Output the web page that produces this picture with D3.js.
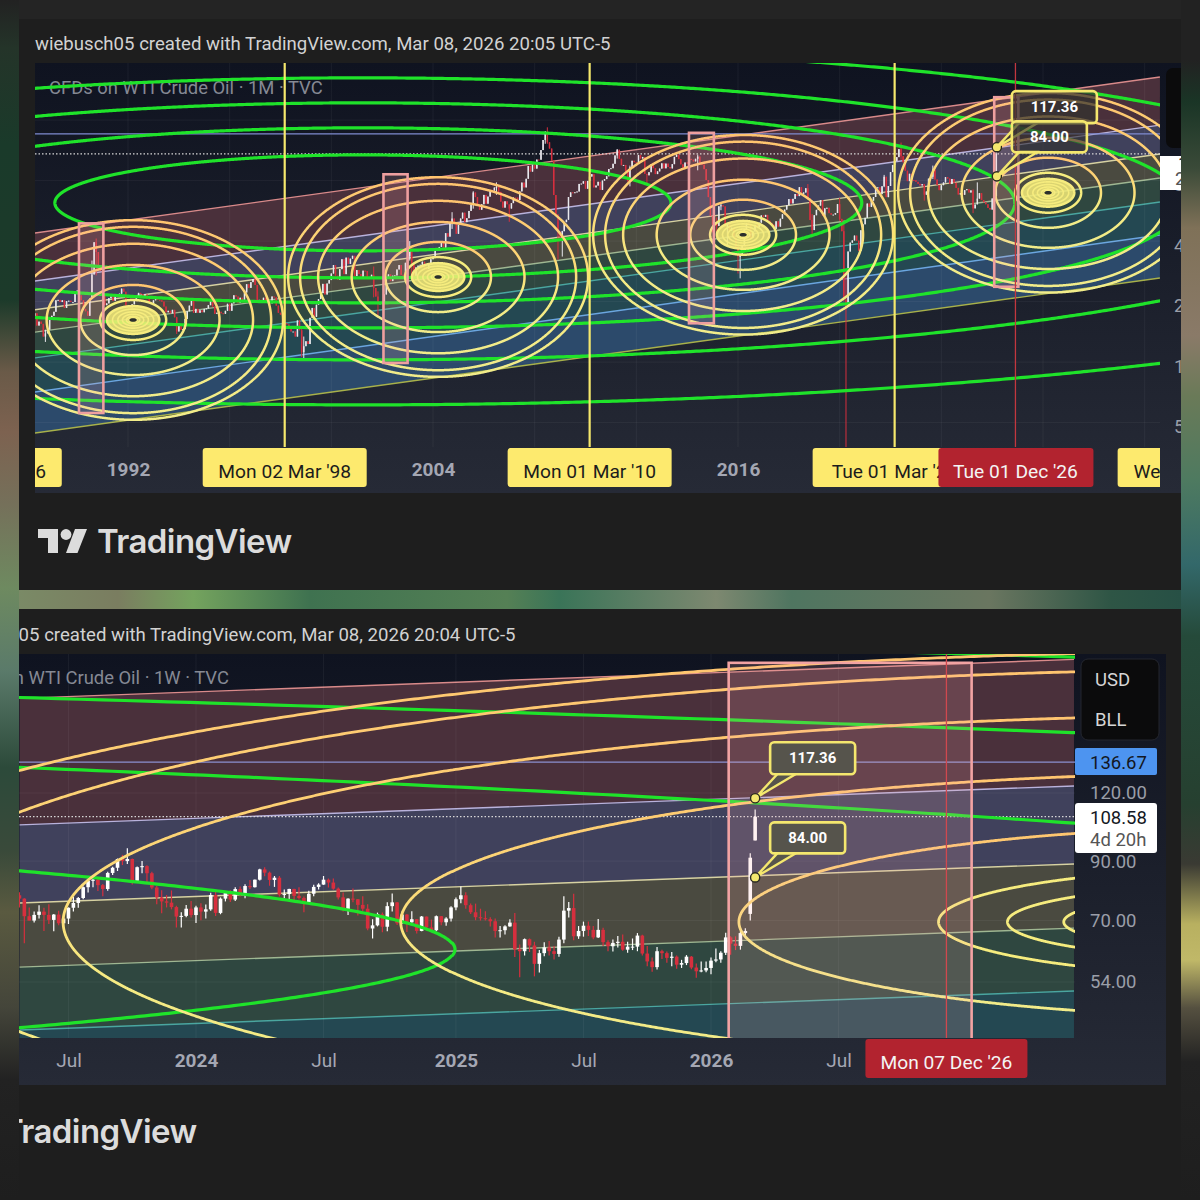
<!DOCTYPE html>
<html>
<head>
<meta charset="utf-8">
<script src="https://cdn.jsdelivr.net/npm/d3@7"></script>
<style>
  html, body { margin: 0; padding: 0; background: #1e1e1e; }
  text { font-family: Roboto, sans-serif; }
</style>
</head>
<body>
<div id="chart"></div>
<script>
// monthly closes, May 1988 -> Mar 2026, one line per year
const monthlyClose = [
  17.5,15.2,15.9,15.5,13.4,13.9,14.5,16.3,
  17.0,17.8,20.3,20.4,19.9,20.3,18.6,20.1,20.2,19.9,19.9,21.8,
  22.7,21.5,20.3,18.4,17.9,17.0,20.7,27.3,39.5,35.3,28.9,28.4,
  21.5,19.2,19.6,20.8,21.2,20.2,21.4,21.7,21.9,23.2,22.4,19.1,
  18.9,18.7,19.4,20.3,20.9,22.1,21.8,21.4,21.7,20.6,19.9,19.5,
  20.3,20.7,20.4,20.3,20.0,18.9,17.7,18.0,17.5,18.2,16.7,14.2,
  15.2,14.5,14.6,16.4,17.9,19.1,20.3,17.6,18.4,17.6,18.1,17.7,
  18.4,18.5,19.2,20.4,18.9,17.4,17.6,17.8,17.5,17.4,18.0,19.5,
  18.0,19.6,21.5,21.2,19.7,20.9,20.3,22.2,24.4,23.4,25.0,25.9,
  24.2,20.3,20.4,19.9,20.9,19.8,20.1,19.6,21.2,21.0,19.1,17.6,
  17.2,15.7,15.6,15.4,15.0,14.2,14.2,13.4,16.1,14.4,11.2,12.0,
  12.7,12.3,16.6,18.6,16.8,19.3,20.6,22.1,24.5,21.7,24.6,25.6,
  27.6,30.4,26.9,25.7,29.0,32.5,27.4,33.1,30.8,32.7,33.8,26.8,
  28.7,27.4,26.3,28.5,28.4,26.2,26.4,27.2,23.4,21.2,19.4,19.8,
  19.5,21.7,26.3,27.3,25.3,26.9,27.0,28.9,30.4,27.2,26.9,31.2,
  33.5,36.6,31.0,25.8,29.6,30.2,30.5,31.6,29.2,29.1,30.4,32.5,
  33.1,36.2,35.8,37.4,39.9,37.1,43.8,42.1,49.6,51.8,49.4,43.5,
  48.2,51.8,55.4,49.7,52.0,56.5,60.6,69.8,66.2,59.8,57.3,61.0,
  67.9,61.4,66.6,71.9,71.3,73.9,74.4,70.3,62.9,58.7,63.1,61.0,
  58.1,61.8,65.9,65.8,64.0,70.7,78.2,74.0,81.7,94.5,88.7,96.0,
  91.8,101.8,101.6,113.5,127.4,140.0,124.1,115.5,100.6,67.8,54.4,44.6,
  41.7,44.8,49.7,51.1,66.3,69.9,69.5,70.0,70.6,77.0,77.3,79.4,
  72.9,79.7,83.8,86.1,74.0,75.6,78.9,71.9,80.0,81.4,84.1,91.4,
  92.2,97.0,106.7,113.9,102.7,95.4,95.7,88.8,79.2,93.2,100.4,98.8,
  98.5,107.1,103.0,104.9,86.5,85.0,88.1,96.5,92.2,86.2,88.9,91.8,
  97.5,92.1,97.2,93.5,92.0,96.6,105.0,107.7,102.3,96.4,92.7,98.4,
  97.5,102.6,101.6,99.7,102.7,105.4,98.2,96.0,91.2,80.5,66.2,53.3,
  48.2,49.8,47.6,59.6,60.3,59.5,47.1,49.2,45.1,46.6,41.7,37.0,
  33.6,33.8,38.3,45.9,49.1,48.3,41.6,44.7,48.2,46.9,49.4,53.7,
  52.8,54.0,50.6,49.3,48.3,46.0,50.2,47.2,51.7,54.4,57.4,60.4,
  64.7,61.6,64.9,68.6,67.0,74.2,68.8,69.8,73.3,65.3,50.9,45.4,
  53.8,57.2,60.1,63.9,53.5,58.2,58.6,55.1,54.1,54.2,55.2,61.1,
  51.6,44.8,20.5,18.8,35.5,39.3,40.3,42.6,40.2,35.8,45.3,48.5,
  52.2,61.5,59.2,63.6,66.3,73.5,74.0,68.5,75.0,83.6,66.2,75.2,
  88.2,95.7,100.3,104.7,114.7,105.8,98.6,89.6,79.5,86.5,80.6,80.3,
  78.9,77.1,75.7,76.8,68.1,70.6,81.8,83.6,90.8,81.0,76.0,71.7,
  75.9,78.3,83.2,81.9,77.0,81.5,78.0,73.6,68.2,69.3,68.0,71.7,
  72.5,69.8,71.5,58.2,60.8,65.1,69.3,64.0,62.4,61.0,58.5,57.4,
  65.2,67.0,108.58
];

// the months with a wick long enough to read on the picture
const wickMonths = ["1988-10","1990-08","1990-10","1991-01","1993-12","1998-11","1998-12","2001-09","2001-11","2003-02","2003-03","2004-10","2005-08","2006-07","2007-01","2008-06","2008-07","2008-12","2009-02","2011-04","2011-10","2012-06","2014-06","2015-01","2015-03","2015-05","2015-08","2016-01","2016-02","2018-10","2018-12","2020-01","2020-03","2020-04","2021-10","2022-03","2022-06","2023-05","2023-09","2025-04","2025-06","2026-03"];
const wickHighs = [14.5,32,41.2,32,16.8,14.7,13.4,29.9,22.5,40,38,55.7,70.8,78.4,58.5,141,147.3,50,45,114.8,95,85,107.7,53.5,52.5,62.6,49.4,38.4,34.8,76.9,54.5,65.6,48.7,29,85.4,130.5,123.7,77,95,72.3,78.4,111.9];
const wickLows = [12.6,20.7,27,20,13.8,10.6,10.4,21,16.7,32,26.5,46,58,68,49.9,122,122,32.4,33.5,103,74.9,77.3,90,44.2,42,57,37.8,27.6,26.1,64,42.4,50.5,20,0.5,74.2,93.5,101.5,63.6,81.5,55.1,63.6,65];

// weekly bars, 24 Apr 2023 -> 09 Mar 2026
const weeklyClose = [
  76.8,71.3,70.0,71.7,72.7,71.7,70.2,71.8,69.2,70.6,73.9,75.4,77.0,80.6,82.8,83.2,81.3,80.0,85.6,87.5,90.8,90.0,90.8,82.8,87.7,88.1,85.5,80.5,77.2,75.9,75.5,74.1,71.2,71.4,73.6,71.65,
  74.0,72.7,73.4,78.0,72.3,76.8,79.2,76.5,79.97,78.0,81.0,80.6,83.2,86.9,85.7,83.1,83.9,78.1,78.3,80.0,77.7,77.0,75.5,78.4,80.7,81.5,83.2,82.2,80.1,77.2,73.5,76.8,76.6,74.8,73.6,67.7,68.6,71.9,68.2,74.4,75.6,69.2,71.8,69.5,70.4,67.0,71.2,68.0,67.2,71.3,69.5,70.6,74.0,
  76.6,77.9,74.7,72.5,71.0,70.7,70.4,69.8,67.0,67.2,68.3,69.4,62.0,61.5,64.7,63.0,58.3,61.0,62.5,61.5,60.8,64.6,73.0,73.8,65.5,67.0,68.5,67.3,65.2,67.3,63.9,62.8,63.7,64.0,61.9,62.7,62.7,65.7,60.9,58.9,57.5,61.5,61.0,59.8,60.1,58.1,58.5,60.1,57.4,56.5,56.7,57.3,
  59.1,59.4,61.1,65.2,63.5,62.9,66.4,67.0,91.3,108.58
];
const weeklyHigh = [
  78.9,76.9,74.0,72.7,74.7,73.9,75.0,72.0,73.0,71.0,74.0,77.3,77.3,80.8,83.5,84.9,84.2,81.7,86.0,87.9,91.0,92.4,95.0,91.0,88.0,90.0,88.4,86.0,81.0,79.6,78.0,79.5,74.5,72.5,74.8,76.0,
  74.5,75.3,74.9,78.7,79.3,77.2,79.2,79.6,80.6,80.8,81.6,83.1,83.3,87.1,87.7,86.1,84.5,84.5,79.8,80.1,80.1,80.6,77.5,79.4,81.4,82.0,84.5,83.6,83.6,80.5,78.8,76.9,80.2,76.7,77.6,75.0,70.4,72.4,72.4,75.6,78.5,75.7,72.7,72.0,72.8,70.4,71.4,71.2,70.3,71.5,71.4,71.0,74.4,
  77.2,80.8,78.9,75.2,75.2,73.6,72.8,71.0,70.6,68.4,68.6,70.4,72.3,63.3,64.9,64.9,64.0,61.8,63.9,64.2,62.9,65.4,77.6,75.7,78.4,68.4,69.7,69.7,68.4,70.5,67.9,64.4,64.6,65.6,66.0,64.0,64.9,66.4,65.9,62.9,59.9,62.6,61.9,61.4,61.3,60.4,59.3,60.5,60.3,58.4,58.9,58.9,
  59.9,62.2,61.5,66.5,65.5,65.5,66.9,67.8,93.0,111.9
];
const weeklyLow = [
  74.0,63.6,70.0,69.4,70.6,67.0,69.0,66.9,68.6,66.9,69.0,72.7,73.9,76.6,78.8,80.6,79.3,77.6,79.4,84.9,86.3,88.5,88.9,81.5,82.4,85.5,82.3,79.9,75.0,72.2,74.0,73.4,68.0,68.0,71.0,70.9,
  69.3,70.1,70.6,73.0,71.4,71.9,75.9,75.7,76.0,77.5,76.9,80.0,80.5,82.9,84.4,81.1,80.7,77.5,76.9,76.7,76.1,76.5,72.5,75.3,77.6,79.8,81.4,80.5,79.7,76.5,72.7,71.7,75.6,71.5,72.9,67.2,64.9,68.3,66.6,66.9,72.7,68.7,69.1,66.7,69.1,66.3,66.9,67.4,66.7,66.9,68.6,68.5,69.7,
  73.1,75.3,73.6,72.0,70.1,70.0,70.0,68.3,65.2,65.2,66.0,68.2,60.0,55.1,60.4,61.3,55.3,56.2,60.2,60.4,59.4,60.1,63.6,70.9,64.4,64.8,65.4,65.6,64.7,65.0,62.9,61.5,61.4,62.5,61.6,61.1,61.8,61.5,60.4,57.7,56.4,56.9,59.5,58.6,57.7,57.1,57.3,58.0,57.0,55.0,56.3,56.3,
  55.8,58.7,58.6,60.5,60.6,61.8,61.9,64.9,70.0,98.2
];
const weeklyFirstOpen = 77.9;
// weeks that did not open on the previous close
const gapWeeks = ["2026-03-02","2026-03-09"];
const gapOpens = [72, 98.2];

// fib channel, prices at the left and right end of each panel
const topChannelYears = [1988.34, 2032.6];
const topChannelStart = [43.9,25.3,18.2,14.1,10.5,7.1,4.44];
const topChannelEnd = [262,151,108.5,82.4,62.6,42.9,26.2];
const lowChannelYears = [2023.31, 2027.43];
const lowChannelStart = [179,104.9,75.4,57.5,44.1,29.8,18.6];
const lowChannelEnd = [211,123.6,88.9,67.8,52,35.2,21.9];

// green ellipses: semi axis in years and in octaves of price
const greenCenterYear = 2001.24;
const greenCenterPrice = 62;
const topGreenYears = [12.12,19.63,25.65,32.26,40.13,51.65];
const topGreenOct = [0.793,1.24,1.653,2.066,2.595,3.339];
const lowGreenYears = [23.77,29.5,35.4,41.1];
const lowGreenOct = [1.287,1.671,1.963,2.311];

// yellow rings
const ringYears = [0.16,0.26,0.42,0.6,0.81,1.03,1.3,2.08,3.4,4.72,5.43,5.9];
const ringOct = [0.04,0.06,0.095,0.135,0.18,0.23,0.33,0.58,0.91,1.26,1.54,1.65];
const ringCenterYears = [1992.2,2004.2,2016.2,2028.2];
const ringCenterPrices = [16.2,26.5,43,69.6];

// pink boxes
const boxStart = [1990.07,2002.05,2014.07,2026.08];
const boxEnd = [1991.03,2003.0,2015.05,2027.03];
const boxTop = [49,86,138.3,208];
const boxBottom = [5.58,9.9,15.6,23.7];

const topVerticals = ["1986-03-03","1998-03-02","2010-03-01","2022-03-01","2034-03-01"];
const topVerticalLabels = ["Mon 03 Mar '86","Mon 02 Mar '98","Mon 01 Mar '10","Tue 01 Mar '22","Wed 01 Mar '34"];
const topYearTicks = [1992,2004,2016];
const topPriceTicks = [5,10,20,40,80,160];
const lowTickDates = ["2023-07-03","2024-01-01","2024-07-01","2025-01-06","2025-07-07","2026-01-05","2026-07-06"];
const lowTickLabels = ["Jul","2024","Jul","2025","Jul","2026","Jul"];
const lowPriceTicks = [54,70,90,120];
const lastPrice = 108.58;
const alertPrice = 136.67;
const calloutPrices = [117.36, 84.00];

const yd = y => new Date(Date.UTC(Math.floor(y),0,1) + (y-Math.floor(y))*365.25*864e5);
const day = s => new Date(s + "T00:00:00Z");

const svg = d3.select("#chart").append("svg").attr("width",1200).attr("height",1200).style("display","block");
const defs = svg.append("defs");

function gradient(id, stops, vertical){
  const g = defs.append("linearGradient").attr("id",id).attr("x1",0).attr("y1",0)
    .attr("x2",vertical?0:1).attr("y2",vertical?1:0);
  stops.forEach(s => g.append("stop").attr("offset",s[0]).attr("stop-color",s[1]));
}
function clip(id,x,y,w,h){
  defs.append("clipPath").attr("id",id).append("rect").attr("x",x).attr("y",y).attr("width",w).attr("height",h);
}

gradient("leftStrip",[[0,"#222"],[.04,"#243429"],[.12,"#1a3a2a"],[.25,"#1c3a2a"],[.31,"#6a5a48"],[.36,"#7d6250"],[.42,"#75705a"],[.49,"#6e8a60"],[.56,"#5a7a6a"],[.64,"#2c4a3a"],[.71,"#3a4a3a"],[.76,"#5a5a40"],[.84,"#44453a"],[.9,"#222"],[1,"#1e1e1e"]],true);
gradient("rightStrip",[[0,"#222"],[.05,"#222"],[.085,"#1a3526"],[.14,"#3a4a38"],[.19,"#7f7158"],[.28,"#8a7a68"],[.33,"#6a7a58"],[.4,"#4e7a60"],[.47,"#33686a"],[.53,"#254a3a"],[.67,"#264030"],[.72,"#3a3a33"],[.77,"#b8b060"],[.8,"#c0b868"],[.84,"#555040"],[.885,"#222"],[1,"#1e1e1e"]],true);
gradient("midStrip",[[0,"#7a8a66"],[.085,"#7a7d60"],[.15,"#74a35e"],[.25,"#3f7250"],[.42,"#558055"],[.465,"#3a7458"],[.6,"#7d8870"],[.665,"#4f7560"],[.835,"#6a7660"],[.94,"#2e5545"],[1,"#275045"]],false);
gradient("chartBg",[[0,"#0f1320"],[.5,"#1b1f2b"],[1,"#262a36"]],true);
gradient("ringStroke",[[0,"#ffc46f"],[.5,"#fbe07a"],[.62,"#f6ea82"],[1,"#f1ec8a"]],true);

// page
svg.append("rect").attr("width",1200).attr("height",1200).attr("fill","#1e1e1e");
svg.append("rect").attr("width",1200).attr("height",19).attr("fill","#242424");
svg.append("rect").attr("width",19).attr("height",1200).attr("fill","url(#leftStrip)");
svg.append("rect").attr("x",1181).attr("width",19).attr("height",1200).attr("fill","url(#rightStrip)");
svg.append("rect").attr("x",19).attr("y",590).attr("width",1162).attr("height",19).attr("fill","url(#midStrip)");

clip("cardClip",19,19,1162,1181);
clip("topPlot",35,63,1125,384);
clip("topAxisStrip",35,447,1125,46);
clip("lowPlot",19,654,1056,384);

const channelColors = ["#d98a8a","#b9b2dc","#d7d2a2","#9fb792","#4aa6a0","#6ba6e0","#a8b14a"];
const channelFills = ["#4a303b","#40415c","#4a4a40","#2f4740","#244852","#2c4a6b"];

// x, y scales of both charts
const xTop = d3.scaleUtc().domain([yd(1992),yd(2016)]).range([128,738]);
const yTop = d3.scaleLog().domain([5,160]).range([422.6,120.1]);
const xLow = d3.scaleUtc().domain([day("2024-01-01"),day("2026-01-05")]).range([196,711]);
const yLow = d3.scaleLog().domain([54,120]).range([982,793]);

function drawChannel(g,x,y,years,start,end){
  const ends = years.map(yd);
  start.slice(0,-1).forEach((p,i)=>{
    const area = d3.area().x(d=>x(d.t)).y0(d=>y(d.a)).y1(d=>y(d.b));
    g.append("path").attr("fill",channelFills[i])
      .attr("d",area([{t:ends[0],a:p,b:start[i+1]},{t:ends[1],a:end[i],b:end[i+1]}]));
  });
  start.forEach((p,i)=>{
    const line = d3.line().x(d=>x(d.t)).y(d=>y(d.p));
    g.append("path").attr("fill","none").attr("stroke",channelColors[i]).attr("stroke-width",1.4)
      .attr("d",line([{t:ends[0],p:p},{t:ends[1],p:end[i]}]));
  });
}

function ellipsePoints(cx,cy,a,b){
  return d3.range(0,2001).map(i=>{
    const t = i/2000*2*Math.PI;
    return {t:yd(cx+a*Math.cos(t)), p:cy*Math.pow(2,b*Math.sin(t))};
  });
}
function drawEllipse(g,x,y,cx,cy,a,b,stroke,w){
  const line = d3.line().x(d=>x(d.t)).y(d=>y(d.p));
  return g.append("path").attr("fill","none").attr("stroke",stroke).attr("stroke-width",w)
    .attr("d",line(ellipsePoints(cx,cy,a,b)));
}

function drawCandles(g,x,y,bars,bodyW,wickW,white){
  const red = "#d62f3e";
  g.selectAll("line.wick").data(bars).enter().append("line").attr("class","wick")
    .attr("x1",d=>x(d.t)).attr("x2",d=>x(d.t))
    .attr("y1",d=>y(d.h)).attr("y2",d=>y(d.l))
    .attr("stroke",d=>d.c>=d.o?white:red).attr("stroke-width",wickW);
  g.selectAll("rect.body").data(bars).enter().append("rect").attr("class","body")
    .attr("x",d=>x(d.t)-bodyW/2).attr("width",bodyW)
    .attr("y",d=>y(Math.max(d.o,d.c)))
    .attr("height",d=>Math.max(1,Math.abs(y(d.o)-y(d.c))))
    .attr("fill",d=>d.c>=d.o?white:red);
}

function drawCallout(g,px,py,label,boxW,fill){
  const left = px+15, top = py-(boxW>80?56:55), h = boxW>80?32:31;
  g.append("path").attr("d",d3.line()([[px,py],[left+8,top+h-1],[left+27,top+h-1]])+"Z")
    .attr("fill",fill).attr("stroke","#f4e76e").attr("stroke-width",2.4).attr("stroke-linejoin","round");
  g.append("rect").attr("x",left).attr("y",top).attr("width",boxW).attr("height",h).attr("rx",4)
    .attr("fill",fill).attr("stroke","#f4e76e").attr("stroke-width",2.6);
  g.append("text").attr("x",left+boxW/2).attr("y",top+h/2+5).attr("text-anchor","middle")
    .attr("fill","#fff").attr("font-size",15).attr("font-weight",700).text(label);
}
function drawPoint(g,px,py){
  g.append("circle").attr("cx",px).attr("cy",py).attr("r",4.6)
    .attr("fill","#f4e76e").attr("stroke","#2a2a20").attr("stroke-width",1.4);
}

function drawLogo(g,dx,dy){
  const l = g.append("g").attr("transform","translate("+dx+","+dy+")").attr("fill","#dcdcdc");
  l.append("path").attr("d","M38 529H58V553H48V538H38Z");
  l.append("circle").attr("cx",66).attr("cy",534.5).attr("r",5.4);
  l.append("path").attr("d","M75 529H87L77.5 553H66Z");
  l.append("text").attr("x",97).attr("y",553).attr("font-size",33).attr("font-weight",600)
    .style("font-family","Inter, sans-serif").style("letter-spacing","-0.6px").text("TradingView");
}

const titleColor = "#d2d2d2";
const watermark = "#858994";

// ---------- top chart, 1M ----------
const card = svg.append("g").attr("clip-path","url(#cardClip)");
card.append("rect").attr("x",35).attr("y",63).attr("width",1146).attr("height",430).attr("fill","url(#chartBg)");
card.append("text").attr("x",35).attr("y",50).attr("font-size",18.6).attr("fill",titleColor)
  .text("wiebusch05 created with TradingView.com, Mar 08, 2026 20:05 UTC-5");

const monthly = monthlyClose.map((c,i)=>{
  const t = d3.utcMonth.offset(new Date(Date.UTC(1988,4,1)),i);
  const o = i>0 ? monthlyClose[i-1] : 16.6;
  const w = wickMonths.indexOf(d3.utcFormat("%Y-%m")(t));
  return {t:t,o:o,c:c,h:w>=0?wickHighs[w]:Math.max(o,c),l:w>=0?wickLows[w]:Math.min(o,c)};
});

const topG = card.append("g").attr("clip-path","url(#topPlot)");
drawChannel(topG,xTop,yTop,topChannelYears,topChannelStart,topChannelEnd);

d3.range(1988,2036,4).forEach(yr=>{
  topG.append("line").attr("x1",xTop(yd(yr))).attr("x2",xTop(yd(yr))).attr("y1",63).attr("y2",447)
    .attr("stroke","rgba(255,255,255,.05)");
});
topPriceTicks.forEach(p=>{
  topG.append("line").attr("x1",35).attr("x2",1160).attr("y1",yTop(p)).attr("y2",yTop(p))
    .attr("stroke","rgba(255,255,255,.05)");
});

topG.append("text").attr("x",49).attr("y",94).attr("font-size",18.4).attr("fill",watermark)
  .text("CFDs on WTI Crude Oil · 1M · TVC");

topG.append("line").attr("x1",35).attr("x2",1160).attr("y1",yTop(alertPrice)).attr("y2",yTop(alertPrice))
  .attr("stroke","#7f8bd0").attr("stroke-width",1.3);
topG.append("line").attr("x1",35).attr("x2",1160).attr("y1",yTop(lastPrice)).attr("y2",yTop(lastPrice))
  .attr("stroke","#d8d8d8").attr("stroke-width",1.2).attr("stroke-dasharray","1.5 2");

drawCandles(topG.append("g"),xTop,yTop,monthly,1.5,1,"#e9e9ee");

topGreenYears.forEach((a,i)=>drawEllipse(topG,xTop,yTop,greenCenterYear,greenCenterPrice,a,topGreenOct[i],"#1fe32a",3.2));

ringCenterYears.forEach((cx,k)=>{
  const line = d3.line().x(d=>xTop(d.t)).y(d=>yTop(d.p));
  topG.append("path").attr("fill","#f4ec7a").attr("opacity",.85)
    .attr("d",line(ellipsePoints(cx,ringCenterPrices[k],ringYears[5],ringOct[5])));
  ringYears.forEach((a,i)=>{
    drawEllipse(topG,xTop,yTop,cx,ringCenterPrices[k],a,ringOct[i],i<7?"#f6ec7e":"url(#ringStroke)",i<5?1.6:2.5);
  });
  topG.append("path").attr("fill","#2b2f2c")
    .attr("d",line(ellipsePoints(cx,ringCenterPrices[k],ringYears[0]*.9,ringOct[0]*.75)));
});

boxStart.forEach((s,i)=>{
  topG.append("rect").attr("x",xTop(yd(s))).attr("width",xTop(yd(boxEnd[i]))-xTop(yd(s)))
    .attr("y",yTop(boxTop[i])).attr("height",yTop(boxBottom[i])-yTop(boxTop[i]))
    .attr("fill","rgba(255,170,170,.17)").attr("stroke","#ee9f9f").attr("stroke-width",2.6);
});

topVerticals.forEach(d=>{
  topG.append("line").attr("x1",xTop(day(d))).attr("x2",xTop(day(d))).attr("y1",63).attr("y2",447)
    .attr("stroke","#f6e86c").attr("stroke-width",2.2);
});
topG.append("line").attr("x1",xTop(day("2026-12-01"))).attr("x2",xTop(day("2026-12-01"))).attr("y1",63).attr("y2",447)
  .attr("stroke","#c2373f").attr("stroke-width",1.3);

drawPoint(topG,xTop(day("2026-03-09")),yTop(calloutPrices[0]));
drawPoint(topG,xTop(day("2026-03-09")),yTop(calloutPrices[1]));
drawCallout(topG,xTop(day("2026-03-09")),yTop(calloutPrices[0]),"117.36",85,"rgba(50,50,46,.72)");
drawCallout(topG,xTop(day("2026-03-09")),yTop(calloutPrices[1]),"84.00",75,"rgba(50,50,46,.62)");

const topAxisG = card.append("g").attr("clip-path","url(#topAxisStrip)");
const topX = d3.axisBottom(xTop).tickValues(topYearTicks.map(yd)).tickFormat(d3.utcFormat("%Y")).tickSize(0).tickPadding(16);
const topXg = topAxisG.append("g").attr("transform","translate(0,447)").call(topX);
topXg.select(".domain").remove();
topXg.selectAll("text").attr("fill","#a4a7b3").attr("font-size",19).attr("font-weight",700).style("font-family","Roboto");

topVerticals.forEach((d,i)=>{
  const c = xTop(day(d));
  topAxisG.append("rect").attr("x",c-82).attr("y",448).attr("width",164).attr("height",39).attr("rx",3).attr("fill","#fdea6e");
  topAxisG.append("text").attr("x",c).attr("y",478).attr("text-anchor","middle").attr("font-size",19.2).attr("fill","#1c1c1c").text(topVerticalLabels[i]);
});
const redTop = xTop(day("2026-12-01"));
topAxisG.append("rect").attr("x",redTop-77).attr("y",448).attr("width",155).attr("height",39).attr("rx",3).attr("fill","#b2232f");
topAxisG.append("text").attr("x",redTop).attr("y",478).attr("text-anchor","middle").attr("font-size",19.2).attr("fill","#f4f4f4").text("Tue 01 Dec '26");

// price column, mostly cut off by the card edge
const topY = d3.axisRight(yTop).tickValues(topPriceTicks).tickFormat(d3.format(".2f")).tickSize(0).tickPadding(0);
const topYg = card.append("g").attr("transform","translate(1174,0)").call(topY);
topYg.select(".domain").remove();
topYg.selectAll("text").attr("fill","#9a9ea8").attr("font-size",18.5).attr("dy","0.55em").style("font-family","Roboto");
card.append("rect").attr("x",1166).attr("y",68).attr("width",60).attr("height",80).attr("rx",7).attr("fill","#0b0b0c");
card.append("rect").attr("x",1160).attr("y",156).attr("width",40).attr("height",34).attr("fill","#fff");
card.append("text").attr("x",1178).attr("y",170).attr("font-size",18.5).attr("fill","#131722").text("108.58");
card.append("text").attr("x",1175).attr("y",185).attr("font-size",18.5).attr("fill","#555").text("23d 4h");

drawLogo(card,0,0);

// ---------- lower chart, 1W ----------
const low = svg.append("g").attr("clip-path","url(#cardClip)");
low.append("rect").attr("x",19).attr("y",654).attr("width",1147).attr("height",431).attr("fill","url(#chartBg)");
low.append("text").attr("x",-60).attr("y",641).attr("font-size",18.6).attr("fill",titleColor)
  .text("wiebusch05 created with TradingView.com, Mar 08, 2026 20:04 UTC-5");

const weeks = weeklyClose.map((c,i)=>{
  const t = d3.utcMonday.offset(new Date(Date.UTC(2023,3,24)),i);
  const g = gapWeeks.indexOf(d3.utcFormat("%Y-%m-%d")(t));
  const o = g>=0 ? gapOpens[g] : (i>0 ? weeklyClose[i-1] : weeklyFirstOpen);
  return {t:t,o:o,c:c,h:weeklyHigh[i],l:weeklyLow[i]};
});

const lowG = low.append("g").attr("clip-path","url(#lowPlot)");
drawChannel(lowG,xLow,yLow,lowChannelYears,lowChannelStart,lowChannelEnd);

lowTickDates.forEach(d=>{
  lowG.append("line").attr("x1",xLow(day(d))).attr("x2",xLow(day(d))).attr("y1",654).attr("y2",1038)
    .attr("stroke","rgba(255,255,255,.05)");
});
lowPriceTicks.forEach(p=>{
  lowG.append("line").attr("x1",19).attr("x2",1075).attr("y1",yLow(p)).attr("y2",yLow(p))
    .attr("stroke","rgba(255,255,255,.05)");
});

lowG.append("text").attr("x",-45).attr("y",684).attr("font-size",18.4).attr("fill",watermark)
  .text("CFDs on WTI Crude Oil · 1W · TVC");

lowG.append("line").attr("x1",19).attr("x2",1075).attr("y1",yLow(alertPrice)).attr("y2",yLow(alertPrice))
  .attr("stroke","#8b8fd0").attr("stroke-width",1.3);
lowG.append("line").attr("x1",19).attr("x2",1075).attr("y1",yLow(lastPrice)).attr("y2",yLow(lastPrice))
  .attr("stroke","#d8d8d8").attr("stroke-width",1.2).attr("stroke-dasharray","1.5 2");

drawCandles(lowG.append("g"),xLow,yLow,weeks,3.6,1.2,"#ffffff");

lowGreenYears.forEach((a,i)=>drawEllipse(lowG,xLow,yLow,greenCenterYear,greenCenterPrice,a,lowGreenOct[i],"#1fe32a",3.2));

ringYears.forEach((a,i)=>{
  if(i<4) return;
  drawEllipse(lowG,xLow,yLow,ringCenterYears[3],ringCenterPrices[3],a,ringOct[i],i<7?"#f6ec7e":"url(#ringStroke)",2.8);
});

lowG.append("rect").attr("x",xLow(yd(boxStart[3]))).attr("width",xLow(yd(boxEnd[3]))-xLow(yd(boxStart[3])))
  .attr("y",yLow(boxTop[3])).attr("height",yLow(boxBottom[3])-yLow(boxTop[3]))
  .attr("fill","rgba(255,170,170,.17)").attr("stroke","#f2a3a3").attr("stroke-width",2.6);

lowG.append("line").attr("x1",xLow(day("2026-12-07"))).attr("x2",xLow(day("2026-12-07"))).attr("y1",654).attr("y2",1038)
  .attr("stroke","#d0484f").attr("stroke-width",1.3);

const lastWeek = xLow(day("2026-03-09"));
drawCallout(lowG,lastWeek,yLow(calloutPrices[0]),"117.36",85,"#56544c");
drawCallout(lowG,lastWeek,yLow(calloutPrices[1]),"84.00",75,"#56544c");
drawPoint(lowG,lastWeek,yLow(calloutPrices[0]));
drawPoint(lowG,lastWeek,yLow(calloutPrices[1]));

const lowX = d3.axisBottom(xLow).tickValues(lowTickDates.map(day)).tickFormat((d,i)=>lowTickLabels[i]).tickSize(0).tickPadding(16);
const lowXg = low.append("g").attr("transform","translate(0,1038)").call(lowX);
lowXg.select(".domain").remove();
lowXg.selectAll("text").attr("fill","#a4a7b3").attr("font-size",19).style("font-family","Roboto")
  .attr("font-weight",(d,i)=>lowTickLabels[i]==="Jul"?400:700);

const redLow = xLow(day("2026-12-07"));
low.append("rect").attr("x",redLow-81).attr("y",1039).attr("width",162).attr("height",39).attr("rx",3).attr("fill","#b2232f");
low.append("text").attr("x",redLow).attr("y",1069).attr("text-anchor","middle").attr("font-size",19.2).attr("fill","#f4f4f4").text("Mon 07 Dec '26");

const lowY = d3.axisRight(yLow).tickValues(lowPriceTicks).tickFormat(d3.format(".2f")).tickSize(0).tickPadding(0);
const lowYg = low.append("g").attr("transform","translate(1090,0)").call(lowY);
lowYg.select(".domain").remove();
lowYg.selectAll("text").attr("fill","#9a9ea8").attr("font-size",18.5).style("font-family","Roboto");

low.append("rect").attr("x",1081).attr("y",659).attr("width",78).attr("height",81).attr("rx",7)
  .attr("fill","#0b0b0c").attr("stroke","#24262e");
low.append("text").attr("x",1095).attr("y",686).attr("font-size",18.5).attr("fill","#d6d6d6").text("USD");
low.append("text").attr("x",1095).attr("y",726).attr("font-size",18.5).attr("fill","#d6d6d6").text("BLL");

low.append("rect").attr("x",1075).attr("y",748).attr("width",82).attr("height",27).attr("rx",2).attr("fill","#4d94f0");
low.append("text").attr("x",1090).attr("y",yLow(alertPrice)+7).attr("font-size",18.5).attr("fill","#131722").text("136.67");

low.append("rect").attr("x",1075).attr("y",803).attr("width",82).attr("height",50).attr("rx",3).attr("fill","#fff");
low.append("text").attr("x",1090).attr("y",yLow(lastPrice)+7).attr("font-size",18.5).attr("fill","#131722").text("108.58");
low.append("text").attr("x",1090).attr("y",846).attr("font-size",18.5).attr("fill","#555").text("4d 20h");

drawLogo(low,-95,590);
</script>
</body>
</html>
